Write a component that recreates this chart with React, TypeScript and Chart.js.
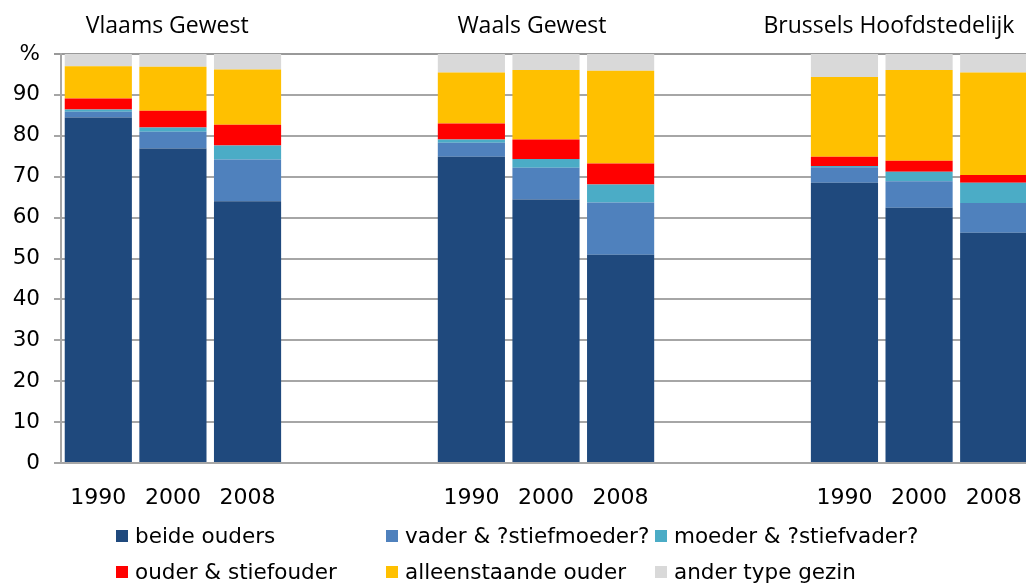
import React, { useEffect, useRef } from 'react';
import { Chart, registerables } from 'chart.js';

Chart.register(...registerables);

// Categories (empty slots separate the three regions)
const categories = ['1990', '2000', '2008', '', '', '1990', '2000', '2008', '', '', '1990', '2000', '2008'];

const groupTitles = ['Vlaams Gewest', 'Waals Gewest', 'Brussels Hoofdstedelijk'];
const groupFirstIndex = [0, 5, 10];

const seriesLabels = [
  'beide ouders',
  'vader & ?stiefmoeder?',
  'moeder & ?stiefvader?',
  'ouder & stiefouder',
  'alleenstaande ouder',
  'ander type gezin',
];

const seriesColors = ['#1F497D', '#4F81BD', '#4BACC6', '#FF0000', '#FFC000', '#D9D9D9'];

const beideOuders = [84.5, 76.9, 64.0, null, null, 74.9, 64.4, 50.9, null, null, 68.5, 62.4, 56.3];
const vaderStiefmoeder = [1.4, 4.1, 10.2, null, null, 3.4, 7.8, 12.8, null, null, 3.8, 6.5, 7.3];
const moederStiefvader = [0.5, 1.0, 3.4, null, null, 0.8, 2.1, 4.4, null, null, 0.3, 2.3, 4.9];
const ouderStiefouder = [2.7, 4.1, 5.1, null, null, 3.9, 4.8, 5.1, null, null, 2.3, 2.7, 1.9];
const alleenstaandeOuder = [7.9, 10.8, 13.5, null, null, 12.5, 17.0, 22.7, null, null, 19.5, 22.2, 25.1];
const anderTypeGezin = [3.0, 3.1, 3.8, null, null, 4.5, 3.9, 4.1, null, null, 5.6, 3.9, 4.5];

const seriesValues = [beideOuders, vaderStiefmoeder, moederStiefvader, ouderStiefouder, alleenstaandeOuder, anderTypeGezin];

const yTickValues = [0, 10, 20, 30, 40, 50, 60, 70, 80, 90, 100];

const TICK_FONT = 'DejaVu Sans';
const TITLE_FONT = 'Open Sans';

const decorPlugin = {
  id: 'decor',
  afterDraw(chart: any) {
    const ctx = chart.ctx;
    const xs = chart.scales.x;
    ctx.save();
    // group titles
    const titleOffsets = [-12.5, -14, -81];
    ctx.font = `23px "${TITLE_FONT}"`;
    ctx.fillStyle = '#000';
    ctx.textAlign = 'left';
    ctx.textBaseline = 'alphabetic';
    groupTitles.forEach((t, i) => {
      const x = xs.getPixelForValue(groupFirstIndex[i]) + titleOffsets[i];
      ctx.fillText(t, x, 33);
    });
    // legend
    const colX = [116, 386, 655];
    const rowY = [536, 572];
    ctx.font = `21.5px "${TICK_FONT}"`;
    ctx.textBaseline = 'middle';
    chart.data.datasets.forEach((ds: any, i: number) => {
      const c = i % 3;
      const r = Math.floor(i / 3);
      ctx.fillStyle = ds.backgroundColor;
      ctx.fillRect(colX[c], rowY[r] - 6, 12, 12);
      ctx.fillStyle = '#000';
      ctx.fillText(ds.label, colX[c] + 19, rowY[r] + 1);
    });
    ctx.restore();
  },
};

export default function App() {
  const ref = useRef<HTMLCanvasElement>(null);
  useEffect(() => {
    const canvas = ref.current!;
    const chart = new Chart(canvas, {
      type: 'bar',
      data: {
        labels: categories,
        datasets: seriesValues.map((d, i) => ({
          label: seriesLabels[i],
          data: d,
          backgroundColor: seriesColors[i],
          borderWidth: 0,
          categoryPercentage: 1,
          barPercentage: 0.9,
        })),
      },
      options: {
        responsive: false,
        animation: false,
        layout: { padding: { left: 13, right: 29, top: 54, bottom: 75 } },
        plugins: { legend: { display: false }, tooltip: { enabled: false }, title: { display: false } },
        scales: {
          x: {
            stacked: true,
            grid: { display: true, drawOnChartArea: false, drawTicks: false },
            border: { display: true, color: '#a6a6a6', width: 2 },
            afterFit: (s: any) => {
              s.height = 45;
            },
            ticks: {
              padding: 22,
              color: '#000',
              maxRotation: 0,
              autoSkip: false,
              font: { family: TICK_FONT, size: 22 },
            },
          },
          y: {
            stacked: true,
            min: 0,
            max: 100,
            afterBuildTicks: (scale: any) => {
              scale.ticks = yTickValues.map((v) => ({ value: v }));
            },
            afterFit: (s: any) => {
              s.width = 48;
            },
            ticks: {
              padding: 14,
              color: '#000',
              font: { family: TICK_FONT, size: 21.5 },
              callback: (v: any) => (v === 100 ? '%' : String(v)),
            },
            grid: {
              color: (c: any) => (c.tick && c.tick.value === 100 ? '#999999' : '#a6a6a6'),
              lineWidth: 2,
              tickLength: 7,
            },
            border: { color: '#a6a6a6', width: 2 },
          },
        },
      },
      plugins: [decorPlugin],
    });
    return () => chart.destroy();
  }, []);
  return (
    <div style={{ position: 'fixed', left: 0, top: 0, width: 1026, height: 583, overflow: 'hidden', background: '#fff' }}>
      <canvas ref={ref} width={1060} height={583} style={{ display: 'block', width: 1060, height: 583 }} />
    </div>
  );
}
